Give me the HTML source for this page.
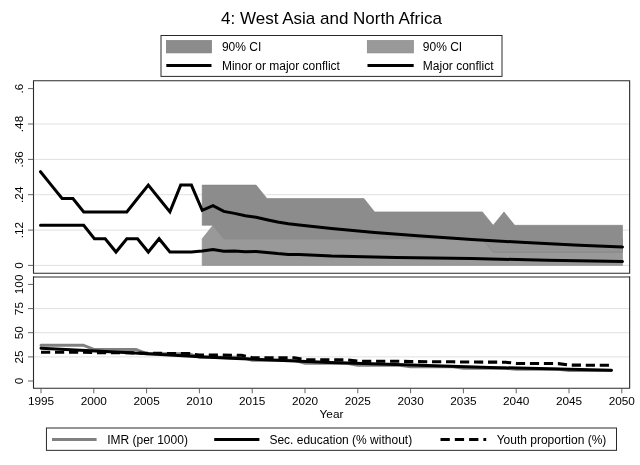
<!DOCTYPE html>
<html><head><meta charset="utf-8"><title>4: West Asia and North Africa</title>
<style>
html,body{margin:0;padding:0;background:#fff;}
svg{display:block}
text{font-family:"Liberation Sans",Arial,sans-serif;fill:#000}
</style></head><body>
<svg width="640" height="465" viewBox="0 0 640 465">
<rect width="640" height="465" fill="#fff"/>
<text x="331.5" y="24.1" font-size="17" text-anchor="middle">4: West Asia and North Africa</text>
<rect x="161.0" y="35.5" width="341.0" height="40.9" fill="#fff" stroke="#2a2a2a" stroke-width="1"/>
<rect x="166.4" y="40.5" width="45.1" height="12.4" fill="#8c8c8c" stroke="#7c7c7c" stroke-width="0.7"/>
<rect x="367.3" y="40.5" width="46.1" height="12.4" fill="#999999" stroke="#888888" stroke-width="0.7"/>
<line x1="166.3" y1="65.6" x2="211.5" y2="65.6" stroke="#000" stroke-width="3"/>
<line x1="367.5" y1="65.6" x2="413.7" y2="65.6" stroke="#000" stroke-width="3"/>
<text x="221.9" y="51" font-size="12">90% CI</text>
<text x="221.9" y="70" font-size="12">Minor or major conflict</text>
<text x="422.8" y="51" font-size="12">90% CI</text>
<text x="422.8" y="70" font-size="12">Major conflict</text>
<line x1="33.5" y1="265.4" x2="629.65" y2="265.4" stroke="#e0e0e0" stroke-width="1"/>
<line x1="33.5" y1="230.1" x2="629.65" y2="230.1" stroke="#e0e0e0" stroke-width="1"/>
<line x1="33.5" y1="194.7" x2="629.65" y2="194.7" stroke="#e0e0e0" stroke-width="1"/>
<line x1="33.5" y1="159.4" x2="629.65" y2="159.4" stroke="#e0e0e0" stroke-width="1"/>
<line x1="33.5" y1="124.0" x2="629.65" y2="124.0" stroke="#e0e0e0" stroke-width="1"/>
<line x1="33.5" y1="356.9" x2="629.65" y2="356.9" stroke="#e0e0e0" stroke-width="1"/>
<line x1="33.5" y1="332.7" x2="629.65" y2="332.7" stroke="#e0e0e0" stroke-width="1"/>
<line x1="33.5" y1="308.6" x2="629.65" y2="308.6" stroke="#e0e0e0" stroke-width="1"/>
<polygon points="202.2,238.7 213.0,225.3 223.8,238.7 622.5,238.7 622.5,265.4 202.2,265.4" fill="#999999" stroke="#8a8a8a" stroke-width="0.6"/>
<polygon points="202.2,185.1 256.1,185.1 266.9,198.5 363.9,198.5 374.6,211.9 482.4,211.9 493.2,225.3 504.0,211.9 514.7,225.3 622.5,225.3 622.5,252.0 493.2,252.0 482.4,238.7 223.8,238.7 213.0,225.3 202.2,225.3" fill="#8c8c8c" stroke="#828282" stroke-width="0.6"/>
<polygon points="482.4,238.7 482.4,239.9 525.5,242.6 579.4,245.2 622.5,247.0 622.5,252.0 493.2,252.0" fill="#939393" stroke="#868686" stroke-width="0.6"/>
<polyline points="40.5,171.7 51.3,185.1 62.1,198.5 72.9,198.5 83.7,211.9 94.4,211.9 105.2,211.9 116.0,211.9 126.8,211.9 137.5,198.5 148.3,185.1 159.1,198.5 169.9,211.9 180.7,185.1 191.4,185.1 202.2,210.3 213.0,205.6 223.8,211.4 234.5,213.4 245.3,215.8 256.1,217.3 266.9,219.7 277.6,222.0 288.4,223.8 299.2,225.0 331.5,228.6 374.6,232.5 417.7,235.8 471.6,239.5 525.5,242.6 579.4,245.2 622.5,247.0" fill="none" stroke="#000" stroke-width="3" stroke-linejoin="miter" stroke-linecap="round"/>
<polyline points="40.5,225.3 51.3,225.3 62.1,225.3 72.9,225.3 83.7,225.3 94.4,238.7 105.2,238.7 116.0,252.0 126.8,238.7 137.5,238.7 148.3,252.0 159.1,238.7 169.9,252.0 180.7,252.0 191.4,252.0 202.2,250.9 213.0,249.4 223.8,251.2 234.5,251.0 245.3,251.7 256.1,251.6 266.9,252.5 277.6,253.6 288.4,254.4 299.2,254.4 331.5,256.0 396.2,257.4 471.6,258.6 547.1,260.2 622.5,261.4" fill="none" stroke="#000" stroke-width="3" stroke-linejoin="miter" stroke-linecap="round"/>
<polyline points="41.0,345.2 83.2,345.2 93.8,349.4 136.0,349.4 146.6,353.7 188.8,353.7 199.4,357.3 241.6,357.3 252.2,360.3 294.4,360.3 305.0,363.2 347.2,363.2 357.8,365.2 400.0,365.2 410.6,366.8 452.8,366.8 463.4,368.2 505.6,368.2 516.2,369.3 558.4,369.3 569.0,370.5 611.2,370.5" fill="none" stroke="#808080" stroke-width="3" stroke-linejoin="miter" stroke-linecap="round"/>
<polyline points="41.0,348.3 130.0,352.7 200.0,356.8 230.0,358.2 330.0,362.4 380.0,363.9 490.0,367.4 611.5,370.3" fill="none" stroke="#000" stroke-width="3" stroke-linejoin="miter" stroke-linecap="round"/>
<polyline points="41.0,352.3 83.2,352.3 93.8,352.6 136.0,352.9 146.6,353.3 188.8,353.6 199.4,355.1 241.6,355.2 252.2,357.7 294.4,357.7 305.0,359.7 347.2,359.9 357.8,361.2 400.0,361.3 410.6,361.6 452.8,361.8 463.4,362.0 505.6,362.2 516.2,363.4 558.4,363.6 569.0,365.1 611.2,365.3" fill="none" stroke="#000" stroke-width="3.1" stroke-dasharray="9.2 4.79" stroke-linejoin="miter"/>
<path d="M33.5,273.3 L33.5,80.7 L629.65,80.7 L629.65,273.3 Z" fill="none" stroke="#2a2a2a" stroke-width="1.1"/>
<line x1="33.5" y1="277" x2="629.65" y2="277" stroke="#2a2a2a" stroke-width="1.1"/>
<path d="M33.5,276.3 L33.5,388.3 L629.65,388.3 L629.65,276.3" fill="none" stroke="#2a2a2a" stroke-width="1.1"/>
<line x1="28" y1="265.4" x2="33.5" y2="265.4" stroke="#555" stroke-width="0.9"/>
<text transform="translate(22.8,265.4) rotate(-90)" font-size="11.8" text-anchor="middle">0</text>
<line x1="28" y1="230.1" x2="33.5" y2="230.1" stroke="#555" stroke-width="0.9"/>
<text transform="translate(22.8,230.1) rotate(-90)" font-size="11.8" text-anchor="middle">.12</text>
<line x1="28" y1="194.7" x2="33.5" y2="194.7" stroke="#555" stroke-width="0.9"/>
<text transform="translate(22.8,194.7) rotate(-90)" font-size="11.8" text-anchor="middle">.24</text>
<line x1="28" y1="159.4" x2="33.5" y2="159.4" stroke="#555" stroke-width="0.9"/>
<text transform="translate(22.8,159.4) rotate(-90)" font-size="11.8" text-anchor="middle">.36</text>
<line x1="28" y1="124.0" x2="33.5" y2="124.0" stroke="#555" stroke-width="0.9"/>
<text transform="translate(22.8,124.0) rotate(-90)" font-size="11.8" text-anchor="middle">.48</text>
<line x1="28" y1="88.6" x2="33.5" y2="88.6" stroke="#555" stroke-width="0.9"/>
<text transform="translate(22.8,88.6) rotate(-90)" font-size="11.8" text-anchor="middle">.6</text>
<line x1="28" y1="381.0" x2="33.5" y2="381.0" stroke="#555" stroke-width="0.9"/>
<text transform="translate(22.8,381.0) rotate(-90)" font-size="11.8" text-anchor="middle">0</text>
<line x1="28" y1="356.9" x2="33.5" y2="356.9" stroke="#555" stroke-width="0.9"/>
<text transform="translate(22.8,356.9) rotate(-90)" font-size="11.8" text-anchor="middle">25</text>
<line x1="28" y1="332.7" x2="33.5" y2="332.7" stroke="#555" stroke-width="0.9"/>
<text transform="translate(22.8,332.7) rotate(-90)" font-size="11.8" text-anchor="middle">50</text>
<line x1="28" y1="308.6" x2="33.5" y2="308.6" stroke="#555" stroke-width="0.9"/>
<text transform="translate(22.8,308.6) rotate(-90)" font-size="11.8" text-anchor="middle">75</text>
<line x1="28" y1="284.4" x2="33.5" y2="284.4" stroke="#555" stroke-width="0.9"/>
<text transform="translate(22.8,284.4) rotate(-90)" font-size="11.8" text-anchor="middle">100</text>
<line x1="41.0" y1="388.3" x2="41.0" y2="393.3" stroke="#555" stroke-width="0.9"/>
<text x="41.0" y="404.5" font-size="11.8" text-anchor="middle">1995</text>
<line x1="93.8" y1="388.3" x2="93.8" y2="393.3" stroke="#555" stroke-width="0.9"/>
<text x="93.8" y="404.5" font-size="11.8" text-anchor="middle">2000</text>
<line x1="146.6" y1="388.3" x2="146.6" y2="393.3" stroke="#555" stroke-width="0.9"/>
<text x="146.6" y="404.5" font-size="11.8" text-anchor="middle">2005</text>
<line x1="199.4" y1="388.3" x2="199.4" y2="393.3" stroke="#555" stroke-width="0.9"/>
<text x="199.4" y="404.5" font-size="11.8" text-anchor="middle">2010</text>
<line x1="252.2" y1="388.3" x2="252.2" y2="393.3" stroke="#555" stroke-width="0.9"/>
<text x="252.2" y="404.5" font-size="11.8" text-anchor="middle">2015</text>
<line x1="305.0" y1="388.3" x2="305.0" y2="393.3" stroke="#555" stroke-width="0.9"/>
<text x="305.0" y="404.5" font-size="11.8" text-anchor="middle">2020</text>
<line x1="357.8" y1="388.3" x2="357.8" y2="393.3" stroke="#555" stroke-width="0.9"/>
<text x="357.8" y="404.5" font-size="11.8" text-anchor="middle">2025</text>
<line x1="410.6" y1="388.3" x2="410.6" y2="393.3" stroke="#555" stroke-width="0.9"/>
<text x="410.6" y="404.5" font-size="11.8" text-anchor="middle">2030</text>
<line x1="463.4" y1="388.3" x2="463.4" y2="393.3" stroke="#555" stroke-width="0.9"/>
<text x="463.4" y="404.5" font-size="11.8" text-anchor="middle">2035</text>
<line x1="516.2" y1="388.3" x2="516.2" y2="393.3" stroke="#555" stroke-width="0.9"/>
<text x="516.2" y="404.5" font-size="11.8" text-anchor="middle">2040</text>
<line x1="569.0" y1="388.3" x2="569.0" y2="393.3" stroke="#555" stroke-width="0.9"/>
<text x="569.0" y="404.5" font-size="11.8" text-anchor="middle">2045</text>
<line x1="621.8" y1="388.3" x2="621.8" y2="393.3" stroke="#555" stroke-width="0.9"/>
<text x="621.8" y="404.5" font-size="11.8" text-anchor="middle">2050</text>
<text x="331.5" y="417.7" font-size="11.8" text-anchor="middle">Year</text>
<rect x="46.45" y="428.0" width="570.05" height="22.35" fill="#fff" stroke="#2a2a2a" stroke-width="1"/>
<line x1="52" y1="439.4" x2="96.6" y2="439.4" stroke="#808080" stroke-width="3"/>
<text x="107.2" y="443.7" font-size="12">IMR (per 1000)</text>
<line x1="214.2" y1="439.4" x2="259.4" y2="439.4" stroke="#000" stroke-width="3"/>
<text x="269.4" y="443.7" font-size="12">Sec. education (% without)</text>
<line x1="440.5" y1="439.4" x2="486.2" y2="439.4" stroke="#000" stroke-width="3" stroke-dasharray="9.3 5"/>
<text x="496.7" y="443.7" font-size="12">Youth proportion (%)</text>
</svg>
</body></html>
